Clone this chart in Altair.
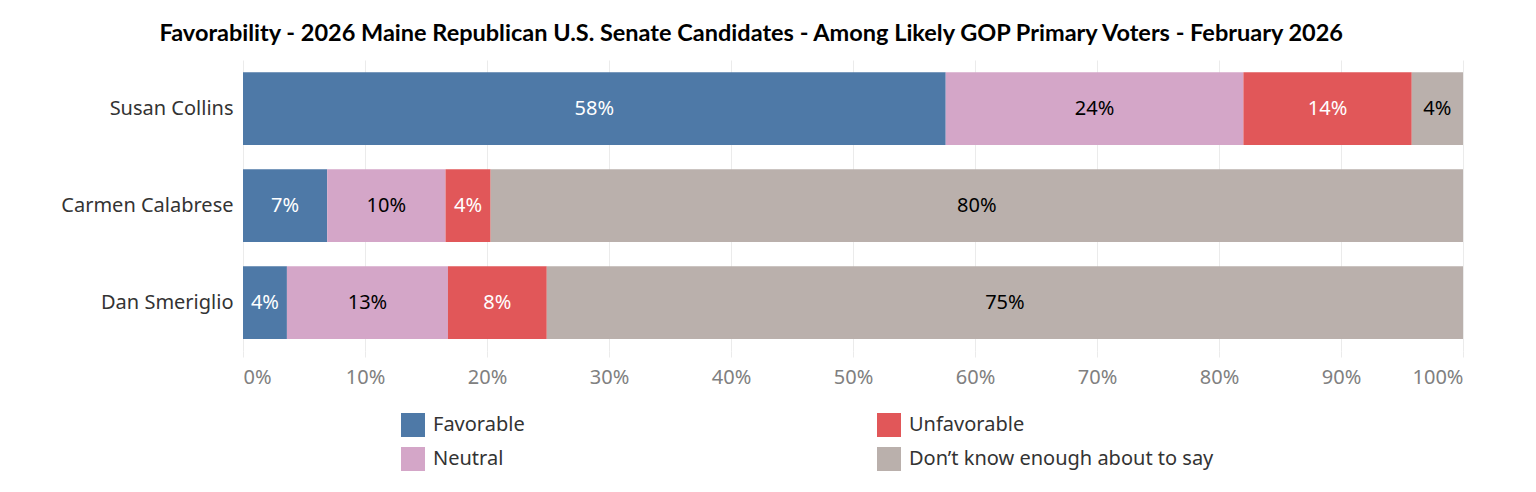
import altair as alt
import pandas as pd

candidates = ["Susan Collins", "Carmen Calabrese", "Dan Smeriglio"]
categories = ["Favorable", "Neutral", "Unfavorable", "Don\u2019t know enough about to say"]
favorable = [57.6, 6.9, 3.6]
neutral = [24.4, 9.7, 13.2]
unfavorable = [13.8, 3.7, 8.1]
dont_know = [4.2, 79.7, 75.1]
colors = ["#4E79A7", "#D4A6C8", "#E15759", "#BAB0AC"]
text_colors = ["#FFFFFF", "#000000", "#FFFFFF", "#000000"]
x_ticks = [0, 10, 20, 30, 40, 50, 60, 70, 80, 90, 100]

series = [favorable, neutral, unfavorable, dont_know]
rows = []
for ci, cat in enumerate(categories):
    for ri, cand in enumerate(candidates):
        rows.append({"candidate": cand, "category": cat, "value": series[ci][ri],
                     "order": ci, "tcolor": text_colors[ci]})
df = pd.DataFrame(rows)

FONT = "Noto Sans"
FS = 20

base = alt.Chart(df).transform_stack(
    stack="value", as_=["x0", "x1"], groupby=["candidate"],
    sort=[alt.SortField("order", order="ascending")]
).transform_calculate(
    mid="(datum.x0 + datum.x1) / 2",
    label="format(round(datum.value), 'd') + '%'"
)

yenc = alt.Y("candidate:N", sort=candidates, title=None,
             scale=alt.Scale(paddingInner=0.25, paddingOuter=0.125),
             axis=alt.Axis(labelFont=FONT, labelFontSize=FS, labelColor="#333333",
                           ticks=False, domain=False, labelPadding=10,
                           minExtent=230, maxExtent=230))

bars = base.mark_bar().encode(
    x=alt.X("x0:Q", scale=alt.Scale(domain=[0, 100], nice=False), title=None,
            axis=alt.Axis(values=x_ticks, labelExpr="datum.value + '%'",
                          labelFont=FONT, labelFontSize=FS, labelColor="#808080",
                          labelFlush=True, grid=True, gridColor="#EBEBEB",
                          ticks=True, tickColor="#EBEBEB", tickSize=6,
                          domain=False, labelPadding=10)),
    x2="x1:Q",
    y=yenc,
    color=alt.Color("category:N", scale=alt.Scale(domain=categories, range=colors),
                    title=None,
                    legend=alt.Legend(orient="none", legendX=158, legendY=353, columns=2,
                                      symbolType="square", symbolSize=576,
                                      symbolStrokeWidth=0, labelFont=FONT,
                                      labelFontSize=FS, labelColor="#333333",
                                      labelOffset=8, rowPadding=10, columnPadding=352,
                                      padding=0, labelLimit=400)),
    order=alt.Order("order:Q"),
)

texts = base.mark_text(font=FONT, fontSize=FS).encode(
    x="mid:Q",
    y=alt.Y("candidate:N", sort=candidates),
    text="label:N",
    color=alt.Color("tcolor:N", scale=None),
)

chart = alt.layer(bars, texts).properties(
    width=1220, height=291,
    padding={"top": 13, "left": 5, "right": 5, "bottom": 5},
    title=alt.Title("Favorability - 2026 Maine Republican U.S. Senate Candidates - Among Likely GOP Primary Voters - February 2026",
                    font="Lato", fontSize=23.5, fontWeight="bold", color="#000000",
                    anchor="middle", frame="bounds", offset=15, dx=13),
).configure_view(stroke=None)

chart.save("out.html", embed_options={"renderer": "svg", "actions": False})
